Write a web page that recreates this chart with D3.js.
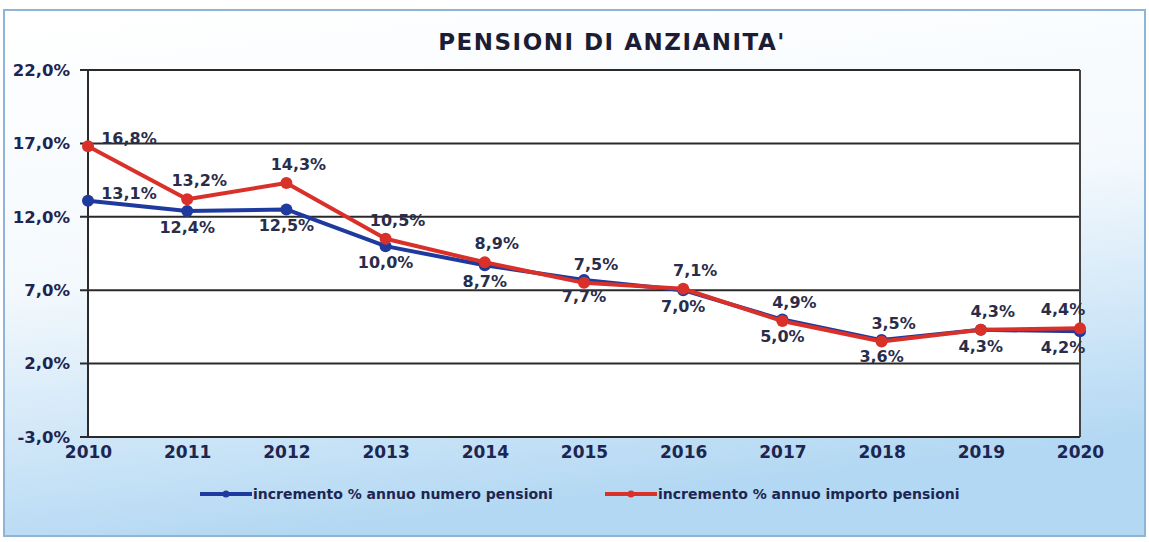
<!DOCTYPE html>
<html>
<head>
<meta charset="utf-8">
<script src="https://cdn.jsdelivr.net/npm/d3@7"></script>
<style>
  body { margin: 0; background: #fff; }
  svg { display: block; }
</style>
</head>
<body>
<svg id="chart" width="1149" height="542"></svg>
<script>
// data
var years = ["2010","2011","2012","2013","2014","2015","2016","2017","2018","2019","2020"];
var numeroPensioni = [13.1, 12.4, 12.5, 10.0, 8.7, 7.7, 7.0, 5.0, 3.6, 4.3, 4.2];
var importoPensioni = [16.8, 13.2, 14.3, 10.5, 8.9, 7.5, 7.1, 4.9, 3.5, 4.3, 4.4];
var yTicks = [-3, 2, 7, 12, 17, 22];
var seriesNames = ["incremento % annuo numero pensioni", "incremento % annuo importo pensioni"];

var fmt = function(v) { return d3.format(".1f")(v).replace("−", "-").replace(".", ",") + "%"; };

var svg = d3.select("#chart");
var W = 1149, H = 542;
var margin = {top: 70, right: 69, bottom: 105, left: 88};
var font = "DejaVu Sans, Verdana, sans-serif";

// background with soft blue fade
var defs = svg.append("defs");
var grad = defs.append("linearGradient").attr("id", "bg")
    .attr("x1", "0").attr("y1", "0").attr("x2", "0.25").attr("y2", "1");
grad.append("stop").attr("offset", "0").attr("stop-color", "#ffffff");
grad.append("stop").attr("offset", "0.5").attr("stop-color", "#f4f9fd");
grad.append("stop").attr("offset", "1").attr("stop-color", "#b3d8f3");

svg.append("rect").attr("width", W).attr("height", H).attr("fill", "#fff");
svg.append("rect")
    .attr("x", 4).attr("y", 10).attr("width", W - 8).attr("height", H - 16)
    .attr("fill", "url(#bg)")
    .attr("stroke", "#8fb4d6").attr("stroke-width", 2);

var x = d3.scalePoint().domain(years).range([margin.left, W - margin.right]);
var y = d3.scaleLinear().domain([-3, 22]).range([H - margin.bottom, margin.top]);

// plot area
svg.append("rect")
    .attr("x", margin.left).attr("y", margin.top)
    .attr("width", W - margin.right - margin.left)
    .attr("height", H - margin.bottom - margin.top)
    .attr("fill", "#fff");

// title
svg.append("text")
    .attr("x", 612).attr("y", 50)
    .attr("text-anchor", "middle")
    .style("font-family", font)
    .style("font-weight", "bold")
    .style("font-size", "23px")
    .style("letter-spacing", "1.5px")
    .attr("fill", "#1c1c34")
    .text("PENSIONI DI ANZIANITA'");

// gridlines
svg.append("g").selectAll("line")
    .data(yTicks)
  .enter().append("line")
    .attr("x1", margin.left - 8).attr("x2", W - margin.right)
    .attr("y1", function(d) { return y(d); })
    .attr("y2", function(d) { return y(d); })
    .attr("stroke", "#2a2a2a").attr("stroke-width", 2);

// frame sides
svg.append("line")
    .attr("x1", margin.left).attr("x2", margin.left)
    .attr("y1", y(22)).attr("y2", y(-3))
    .attr("stroke", "#2a2a2a").attr("stroke-width", 2);
svg.append("line")
    .attr("x1", W - margin.right).attr("x2", W - margin.right)
    .attr("y1", y(22)).attr("y2", y(-3))
    .attr("stroke", "#444").attr("stroke-width", 2);

// y labels
var yAxis = d3.axisLeft(y).tickValues(yTicks).tickSize(0).tickPadding(18).tickFormat(fmt);
var gy = svg.append("g")
    .attr("transform", "translate(" + margin.left + ",0)")
    .call(yAxis);
gy.select(".domain").remove();
gy.selectAll("text")
    .style("font-family", font)
    .style("font-weight", "bold")
    .style("font-size", "16.5px")
    .attr("fill", "#1d2550");

// x labels
var xAxis = d3.axisBottom(x).tickSize(0).tickPadding(9);
var gx = svg.append("g")
    .attr("transform", "translate(0," + (H - margin.bottom) + ")")
    .call(xAxis);
gx.select(".domain").remove();
gx.selectAll("text")
    .style("font-family", font)
    .style("font-weight", "bold")
    .style("font-size", "17px")
    .attr("fill", "#1d2550");

var line = d3.line()
    .x(function(d, i) { return x(years[i]); })
    .y(function(d) { return y(d); });

var series = [
  {values: numeroPensioni, color: "#1f3a9e", name: seriesNames[0]},
  {values: importoPensioni, color: "#d9302a", name: seriesNames[1]}
];

series.forEach(function(s) {
  svg.append("path")
      .datum(s.values)
      .attr("d", line)
      .attr("fill", "none")
      .attr("stroke", s.color)
      .attr("stroke-width", 4)
      .attr("stroke-linejoin", "round");

  svg.append("g").selectAll("circle")
      .data(s.values)
    .enter().append("circle")
      .attr("cx", function(d, i) { return x(years[i]); })
      .attr("cy", function(d) { return y(d); })
      .attr("r", 6)
      .attr("fill", s.color);
});

// value labels: importo above, numero below (first one beside the point)
function addLabels(vals, above) {
  svg.append("g").selectAll("text")
      .data(vals)
    .enter().append("text")
      .attr("x", function(d, i) {
        var px = x(years[i]);
        if (i === 0) return px + 41;
        if (i === years.length - 1) return px - 17;
        return px + (above ? 12 : 0);
      })
      .attr("y", function(d, i) {
        if (i === 0) return y(d) - 2;
        return y(d) + (above ? -13 : 22);
      })
      .attr("text-anchor", "middle")
      .style("font-family", font)
      .style("font-weight", "bold")
      .style("font-size", "16px")
      .attr("fill", "#2a2d4a")
      .text(fmt);
}
addLabels(importoPensioni, true);
addLabels(numeroPensioni, false);

// legend
var legendX = [200, 605];
var legend = svg.selectAll(".legend")
    .data(series)
  .enter().append("g")
    .attr("class", "legend")
    .attr("transform", function(d, i) { return "translate(" + legendX[i] + ",494)"; });

legend.append("line")
    .attr("x1", 0).attr("x2", 52)
    .attr("stroke", function(d) { return d.color; })
    .attr("stroke-width", 4);
legend.append("circle")
    .attr("cx", 26).attr("r", 3.5)
    .attr("fill", function(d) { return d.color; });
legend.append("text")
    .attr("x", 53).attr("dy", ".35em")
    .style("font-family", font)
    .style("font-weight", "bold")
    .style("font-size", "14px")
    .attr("fill", "#1d2550")
    .text(function(d) { return d.name; });
</script>
</body>
</html>
